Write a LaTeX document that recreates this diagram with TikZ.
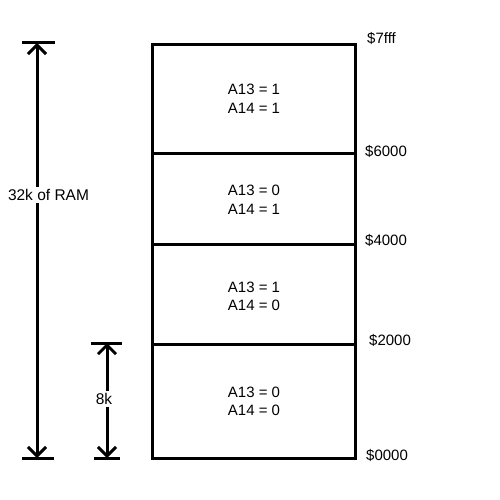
\documentclass[tikz,border=0pt]{standalone}
\usepackage{fontspec}
\setmainfont{Liberation Sans}
\usetikzlibrary{arrows.meta}
\begin{document}
\begin{tikzpicture}[x=1pt,y=-1pt,
  blk/.style={draw=black,line width=3pt,minimum width=203pt,inner sep=0pt,anchor=north west},
  lbl/.style={font=\fontsize{15}{18.5}\selectfont,align=center},
  addr/.style={font=\fontsize{15}{16}\selectfont,anchor=west,inner sep=0pt},
  dim/.style={line width=3pt,-{Straight Barb[length=9pt,width=18pt,line width=3pt]}},
  bar/.style={line width=3pt},
  gap/.style={fill=white,font=\fontsize{15.5}{16}\selectfont,inner sep=2pt}]
\useasboundingbox (0,0) rectangle (500,500);
% blocks
\node[blk,minimum height=109pt] (b1) at (151,43) {};
\node[blk,minimum height=91pt] (b2) at (151,152) {};
\node[blk,minimum height=100pt] (b3) at (151,243) {};
\node[blk,minimum height=114pt] (b4) at (151,343) {};
\node[lbl] (t1) at (b1.center) {A13 = 1\\A14 = 1};
\node[lbl] (t2) at ([yshift=-1pt]b2.center) {A13 = 0\\A14 = 1};
\node[lbl] (t3) at ([yshift=-2pt]b3.center) {A13 = 1\\A14 = 0};
\node[lbl] (t4) at (b4.center) {A13 = 0\\A14 = 0};
% addresses
\node[addr] (a7) at (367,38) {\$7fff};
\node[addr] (a6) at (365,151) {\$6000};
\node[addr] (a4) at (365,240) {\$4000};
\node[addr] (a2) at (369,340) {\$2000};
\node[addr] (a0) at (366,455) {\$0000};
% 32k dimension
\coordinate (c1t) at (37,43);
\coordinate (c1b) at (37,458);
\draw[bar] (22,43) -- (55,43);
\draw[bar] (22,458) -- (54,458);
\node[gap] (m1) at (48.5,195) {32k of RAM};
\draw[dim] (m1.north -| c1t) -- (c1t);
\draw[dim] (m1.south -| c1b) -- (c1b);
% 8k dimension
\coordinate (c2t) at (107,343);
\coordinate (c2b) at (107,458);
\draw[bar] (91,343) -- (122,343);
\draw[bar] (94,458) -- (120,458);
\node[gap] (m2) at (104,399) {8k};
\draw[dim] (m2.north -| c2t) -- (c2t);
\draw[dim] (m2.south -| c2b) -- (c2b);
\end{tikzpicture}
\end{document}
